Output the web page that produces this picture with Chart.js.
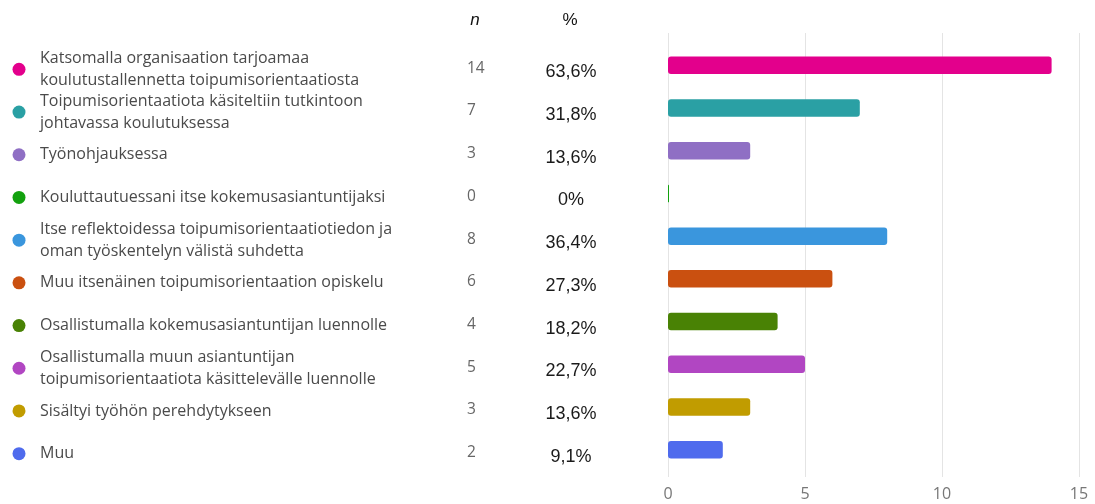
<!DOCTYPE html>
<html>
<head>
<meta charset="utf-8">
<script src="https://cdn.jsdelivr.net/npm/chart.js@4/dist/chart.umd.min.js"></script>
<style>
  html, body { margin: 0; padding: 0; background: #fff; }
  #wrap { width: 1095px; height: 504px; position: relative; }
</style>
</head>
<body>
<div id="wrap"><canvas id="chart"></canvas></div>
<script>
// answer options (line breaks as in the picture)
const categories = [
  ['Katsomalla organisaation tarjoamaa', 'koulutustallennetta toipumisorientaatiosta'],
  ['Toipumisorientaatiota käsiteltiin tutkintoon', 'johtavassa koulutuksessa'],
  ['Työnohjauksessa'],
  ['Kouluttautuessani itse kokemusasiantuntijaksi'],
  ['Itse reflektoidessa toipumisorientaatiotiedon ja', 'oman työskentelyn välistä suhdetta'],
  ['Muu itsenäinen toipumisorientaation opiskelu'],
  ['Osallistumalla kokemusasiantuntijan luennolle'],
  ['Osallistumalla muun asiantuntijan', 'toipumisorientaatiota käsittelevälle luennolle'],
  ['Sisältyi työhön perehdytykseen'],
  ['Muu']
];
const counts = [14, 7, 3, 0, 8, 6, 4, 5, 3, 2];
const percents = ['63,6%', '31,8%', '13,6%', '0%', '36,4%', '27,3%', '18,2%', '22,7%', '13,6%', '9,1%'];
const xTicks = [0, 5, 10, 15];
const barColors = ['#E3008C', '#2AA0A4', '#8F6FC4', '#13A10E', '#3A96DD', '#CA5010', '#498205', '#B146C2', '#C19C00', '#4F6BED'];

const LABEL_FONT = '"Open Sans", "Noto Sans", sans-serif';

// vertical grid lines, a bit taller than the plot area
const gridPlugin = {
  id: 'grid',
  beforeDatasetsDraw(chart) {
    const ctx = chart.ctx;
    const xs = chart.scales.x;
    const area = chart.chartArea;
    ctx.save();
    ctx.strokeStyle = '#e4e4e4';
    ctx.lineWidth = 1;
    xTicks.forEach(v => {
      const x = Math.round(xs.getPixelForValue(v)) + 0.5;
      ctx.beginPath();
      ctx.moveTo(x, area.top - 11);
      ctx.lineTo(x, area.bottom + 6);
      ctx.stroke();
    });
    ctx.restore();
  }
};

// legend-like table on the left: dot, label, n, %
const tablePlugin = {
  id: 'table',
  afterDraw(chart) {
    const ctx = chart.ctx;
    const ys = chart.scales.y;
    ctx.save();
    ctx.textBaseline = 'middle';

    // headers
    ctx.fillStyle = '#111';
    ctx.font = 'italic 17px "Liberation Sans", Arial, sans-serif';
    ctx.textAlign = 'center';
    ctx.fillText('n', 475, 20);
    ctx.font = '17px "Liberation Sans", Arial, sans-serif';
    ctx.fillText('%', 570, 20);

    categories.forEach((lines, i) => {
      const yc = ys.getPixelForValue(i) + 4;

      ctx.fillStyle = barColors[i];
      ctx.beginPath();
      ctx.arc(19, yc, 6.5, 0, Math.PI * 2);
      ctx.fill();

      ctx.fillStyle = '#4a4a4a';
      ctx.font = '16px ' + LABEL_FONT;
      ctx.textAlign = 'left';
      if (lines.length === 1) {
        ctx.fillText(lines[0], 40, yc);
      } else {
        ctx.fillText(lines[0], 40, yc - 11);
        ctx.fillText(lines[1], 40, yc + 11);
      }

      ctx.fillStyle = '#666';
      ctx.font = '15.5px ' + LABEL_FONT;
      ctx.fillText(String(counts[i]), 467, yc - 1);

      ctx.fillStyle = '#1a1a1a';
      ctx.font = '18px "Liberation Sans", Arial, sans-serif';
      ctx.textAlign = 'center';
      ctx.fillText(percents[i], 571, yc + 3);
    });
    ctx.restore();
  }
};

new Chart(document.getElementById('chart'), {
  type: 'bar',
  data: {
    labels: categories.map(l => l.join(' ')),
    datasets: [{
      data: counts,
      backgroundColor: barColors,
      borderRadius: 3,
      borderSkipped: false,
      minBarLength: 1,
      barPercentage: 0.41,
      categoryPercentage: 1
    }]
  },
  options: {
    indexAxis: 'y',
    responsive: true,
    maintainAspectRatio: false,
    animation: false,
    layout: { padding: { left: 668, right: 16, top: 44, bottom: 2 } },
    plugins: {
      legend: { display: false },
      tooltip: { enabled: false }
    },
    scales: {
      x: {
        min: 0,
        max: 15,
        border: { display: false },
        grid: { display: false, drawTicks: false },
        afterBuildTicks: scale => { scale.ticks = xTicks.map(v => ({ value: v })); },
        afterFit: scale => {
          scale.height = 31;
          scale.paddingLeft = 0;
          scale.paddingRight = 0;
        },
        ticks: {
          padding: 14,
          color: '#777',
          font: { family: LABEL_FONT, size: 16 }
        }
      },
      y: {
        display: false
      }
    }
  },
  plugins: [gridPlugin, tablePlugin]
});
</script>
</body>
</html>
